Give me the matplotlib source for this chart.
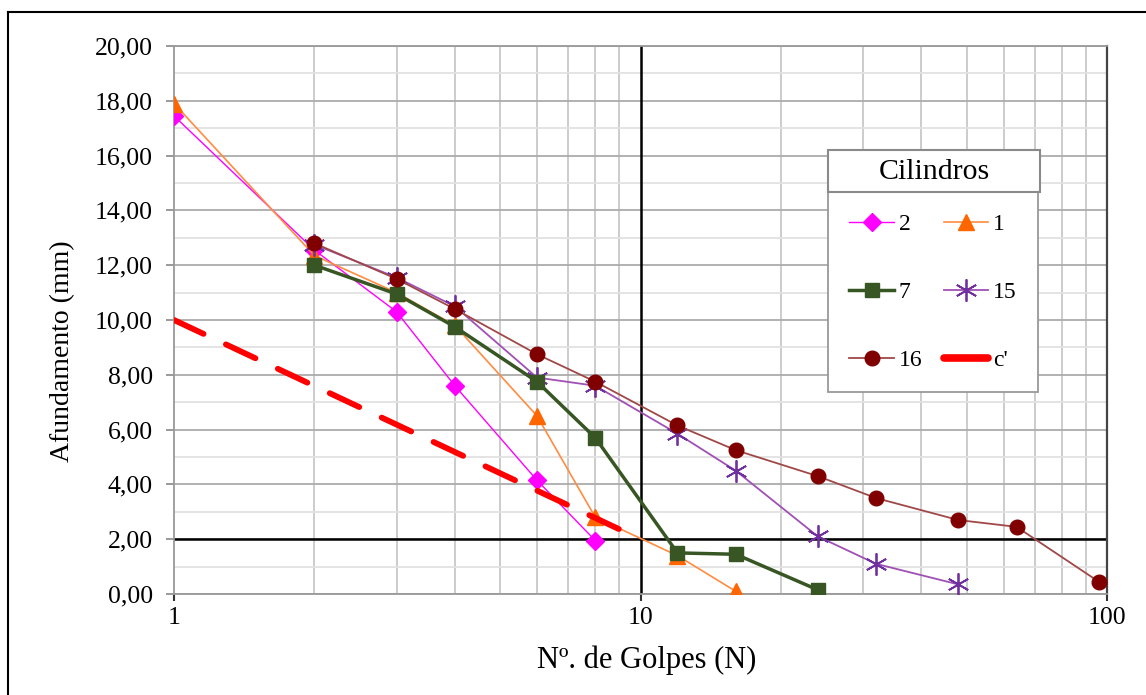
import matplotlib
matplotlib.use("Agg")
import matplotlib.pyplot as plt
from matplotlib.lines import Line2D
from matplotlib.patches import Rectangle
from matplotlib.ticker import FixedLocator, FuncFormatter, NullFormatter

plt.rcParams['font.family'] = ['Liberation Serif', 'DejaVu Serif']
plt.rcParams['lines.scale_dashes'] = False

# ---- data ----
x2 = [1, 2, 3, 4, 6, 8]
y2 = [17.45, 12.55, 10.3, 7.6, 4.15, 1.95]

x1 = [1, 2, 3, 4, 6, 8, 12, 16]
y1 = [17.9, 12.35, 11.0, 9.8, 6.5, 2.8, 1.4, 0.1]

x7 = [2, 3, 4, 6, 8, 12, 16, 24]
y7 = [12.0, 10.95, 9.75, 7.75, 5.7, 1.5, 1.45, 0.15]

x15 = [2, 3, 4, 6, 8, 12, 16, 24, 32, 48]
y15 = [12.75, 11.55, 10.5, 7.9, 7.6, 5.85, 4.5, 2.1, 1.1, 0.35]

x16 = [2, 3, 4, 6, 8, 12, 16, 24, 32, 48, 64, 96]
y16 = [12.8, 11.5, 10.4, 8.75, 7.75, 6.15, 5.25, 4.3, 3.5, 2.7, 2.45, 0.45]

xc = [1, 10]
yc = [10.0, 2.0]

ref_x = 10
ref_y = 2.0

yticks = [0, 2, 4, 6, 8, 10, 12, 14, 16, 18, 20]
xticks = [1, 10, 100]

W, H = 1146, 695

# ---- figure ----
fig = plt.figure(figsize=(W/100, H/100), dpi=100)
ax = fig.add_axes([174/W, 1-594/H, (1107-174)/W, (594-46)/H])

ax.set_xscale('log')
ax.set_xlim(1, 100)
ax.set_ylim(0, 20)

# grid
ax.yaxis.set_major_locator(FixedLocator(yticks))
ax.yaxis.set_minor_locator(FixedLocator([v + 1 for v in yticks[:-1]]))
ax.xaxis.set_major_locator(FixedLocator(xticks))
minors = [m * d for d in (1, 10) for m in range(2, 10)]
ax.xaxis.set_minor_locator(FixedLocator(minors))
ax.xaxis.set_minor_formatter(NullFormatter())
ax.grid(True, which='major', axis='y', color='#ababab', lw=1.3, zorder=0)
ax.grid(True, which='minor', axis='y', color='#e2e2e2', lw=1.3, zorder=0)
ax.grid(True, which='minor', axis='x', color='#c8c8c8', lw=1.3, zorder=0)
ax.set_axisbelow(True)

ax.yaxis.set_major_formatter(FuncFormatter(lambda v, p: f"{v:.2f}".replace('.', ',')))
ax.xaxis.set_major_formatter(FuncFormatter(lambda v, p: f"{int(v)}"))

ax.tick_params(axis='y', which='major', length=5.8, width=1.2, color='#888888',
               labelsize=18.5, pad=9.5)
ax.tick_params(axis='y', which='minor', length=0)
ax.tick_params(axis='x', which='major', length=5, width=1.5, color='#333333',
               labelsize=18.5, pad=4)
ax.tick_params(axis='x', which='minor', length=0)

for s in ['left', 'bottom', 'top']:
    ax.spines[s].set_color('#999999')
    ax.spines[s].set_linewidth(1.3)
ax.spines['right'].set_color('#444444')
ax.spines['right'].set_linewidth(1.6)

# reference lines
ax.axvline(ref_x, color='black', lw=1.8, zorder=1.5)
ax.axhline(ref_y, color='black', lw=1.8, zorder=1.5)

# series
h2, = ax.plot(x2, y2, color='#FF00FF', lw=1.0, marker='D', ms=9.5, mec='#FF00FF',
              mfc='#FF00FF', zorder=3, label='2')
h1, = ax.plot(x1, y1, color='#FF8C40', lw=1.2, marker='^', ms=12, mec='#FF6600',
              mfc='#FF6600', zorder=3, label='1')
h7, = ax.plot(x7, y7, color='#375623', lw=2.5, marker='s', ms=10.5, mec='#375623',
              mfc='#375623', zorder=3.2, label='7')
h15, = ax.plot(x15, y15, color='#A050B4', lw=1.3, marker=(6, 2, 0), ms=16,
               mec='#7030A0', mew=1.3, zorder=3.1, label='15')
h16, = ax.plot(x16, y16, color='#A04848', lw=1.3, marker='o', ms=10.5, mec='#800000',
               mfc='#800000', zorder=3.3, label='16')
hc, = ax.plot(xc, yc, color='#FF0000', lw=4.2, dashes=(23.5, 17.8), zorder=3.5,
              dash_capstyle='round', label="c'")

ax.set_ylabel('Afundamento (mm)', fontsize=20, va='center', ha='center')
ax.yaxis.set_label_coords((63-174)/933, (594-351)/548)
ax.set_xlabel('Nº. de Golpes (N)', fontsize=22, va='center', ha='center')
ax.xaxis.set_label_coords((647-174)/933, (594-660)/548)

# legend header (title box)
fig.add_artist(Rectangle((828/W, 1-192/H), 212/W, 42/H, transform=fig.transFigure,
                         facecolor='white', edgecolor='#8a8a8a', lw=1.5, zorder=10))
fig.text(934/W, 1-172/H, 'Cilindros', fontsize=21.5, ha='center', va='center', zorder=11)

# legend body (column-major: 2,7,16 | 1,15,c')
hc_leg = Line2D([], [], color='#FF0000', lw=5.5, solid_capstyle='round')
leg = ax.legend([h2, h7, h16, h1, h15, hc_leg], ['2', '7', '16', '1', '15', "c'"],
                ncol=2, loc='upper left', mode='expand',
                bbox_to_anchor=(828/W, 1-392/H, 210/W, 200/H), bbox_transform=fig.transFigure,
                fancybox=False, frameon=True, edgecolor='#999999', framealpha=1,
                fontsize=17, handlelength=1.9, handletextpad=0.2,
                columnspacing=1.3, labelspacing=1.97, borderpad=0.9, borderaxespad=0)
leg.get_frame().set_linewidth(1.3)
leg.set_zorder(9)

# outer frame
fig.add_artist(Line2D([8/W, 8/W], [0, 1-12/H], transform=fig.transFigure,
                      color='black', lw=1.5))
fig.add_artist(Line2D([8/W, 1], [1-12/H, 1-12/H], transform=fig.transFigure,
                      color='black', lw=1.5))

fig.savefig('out.png', dpi=100)
